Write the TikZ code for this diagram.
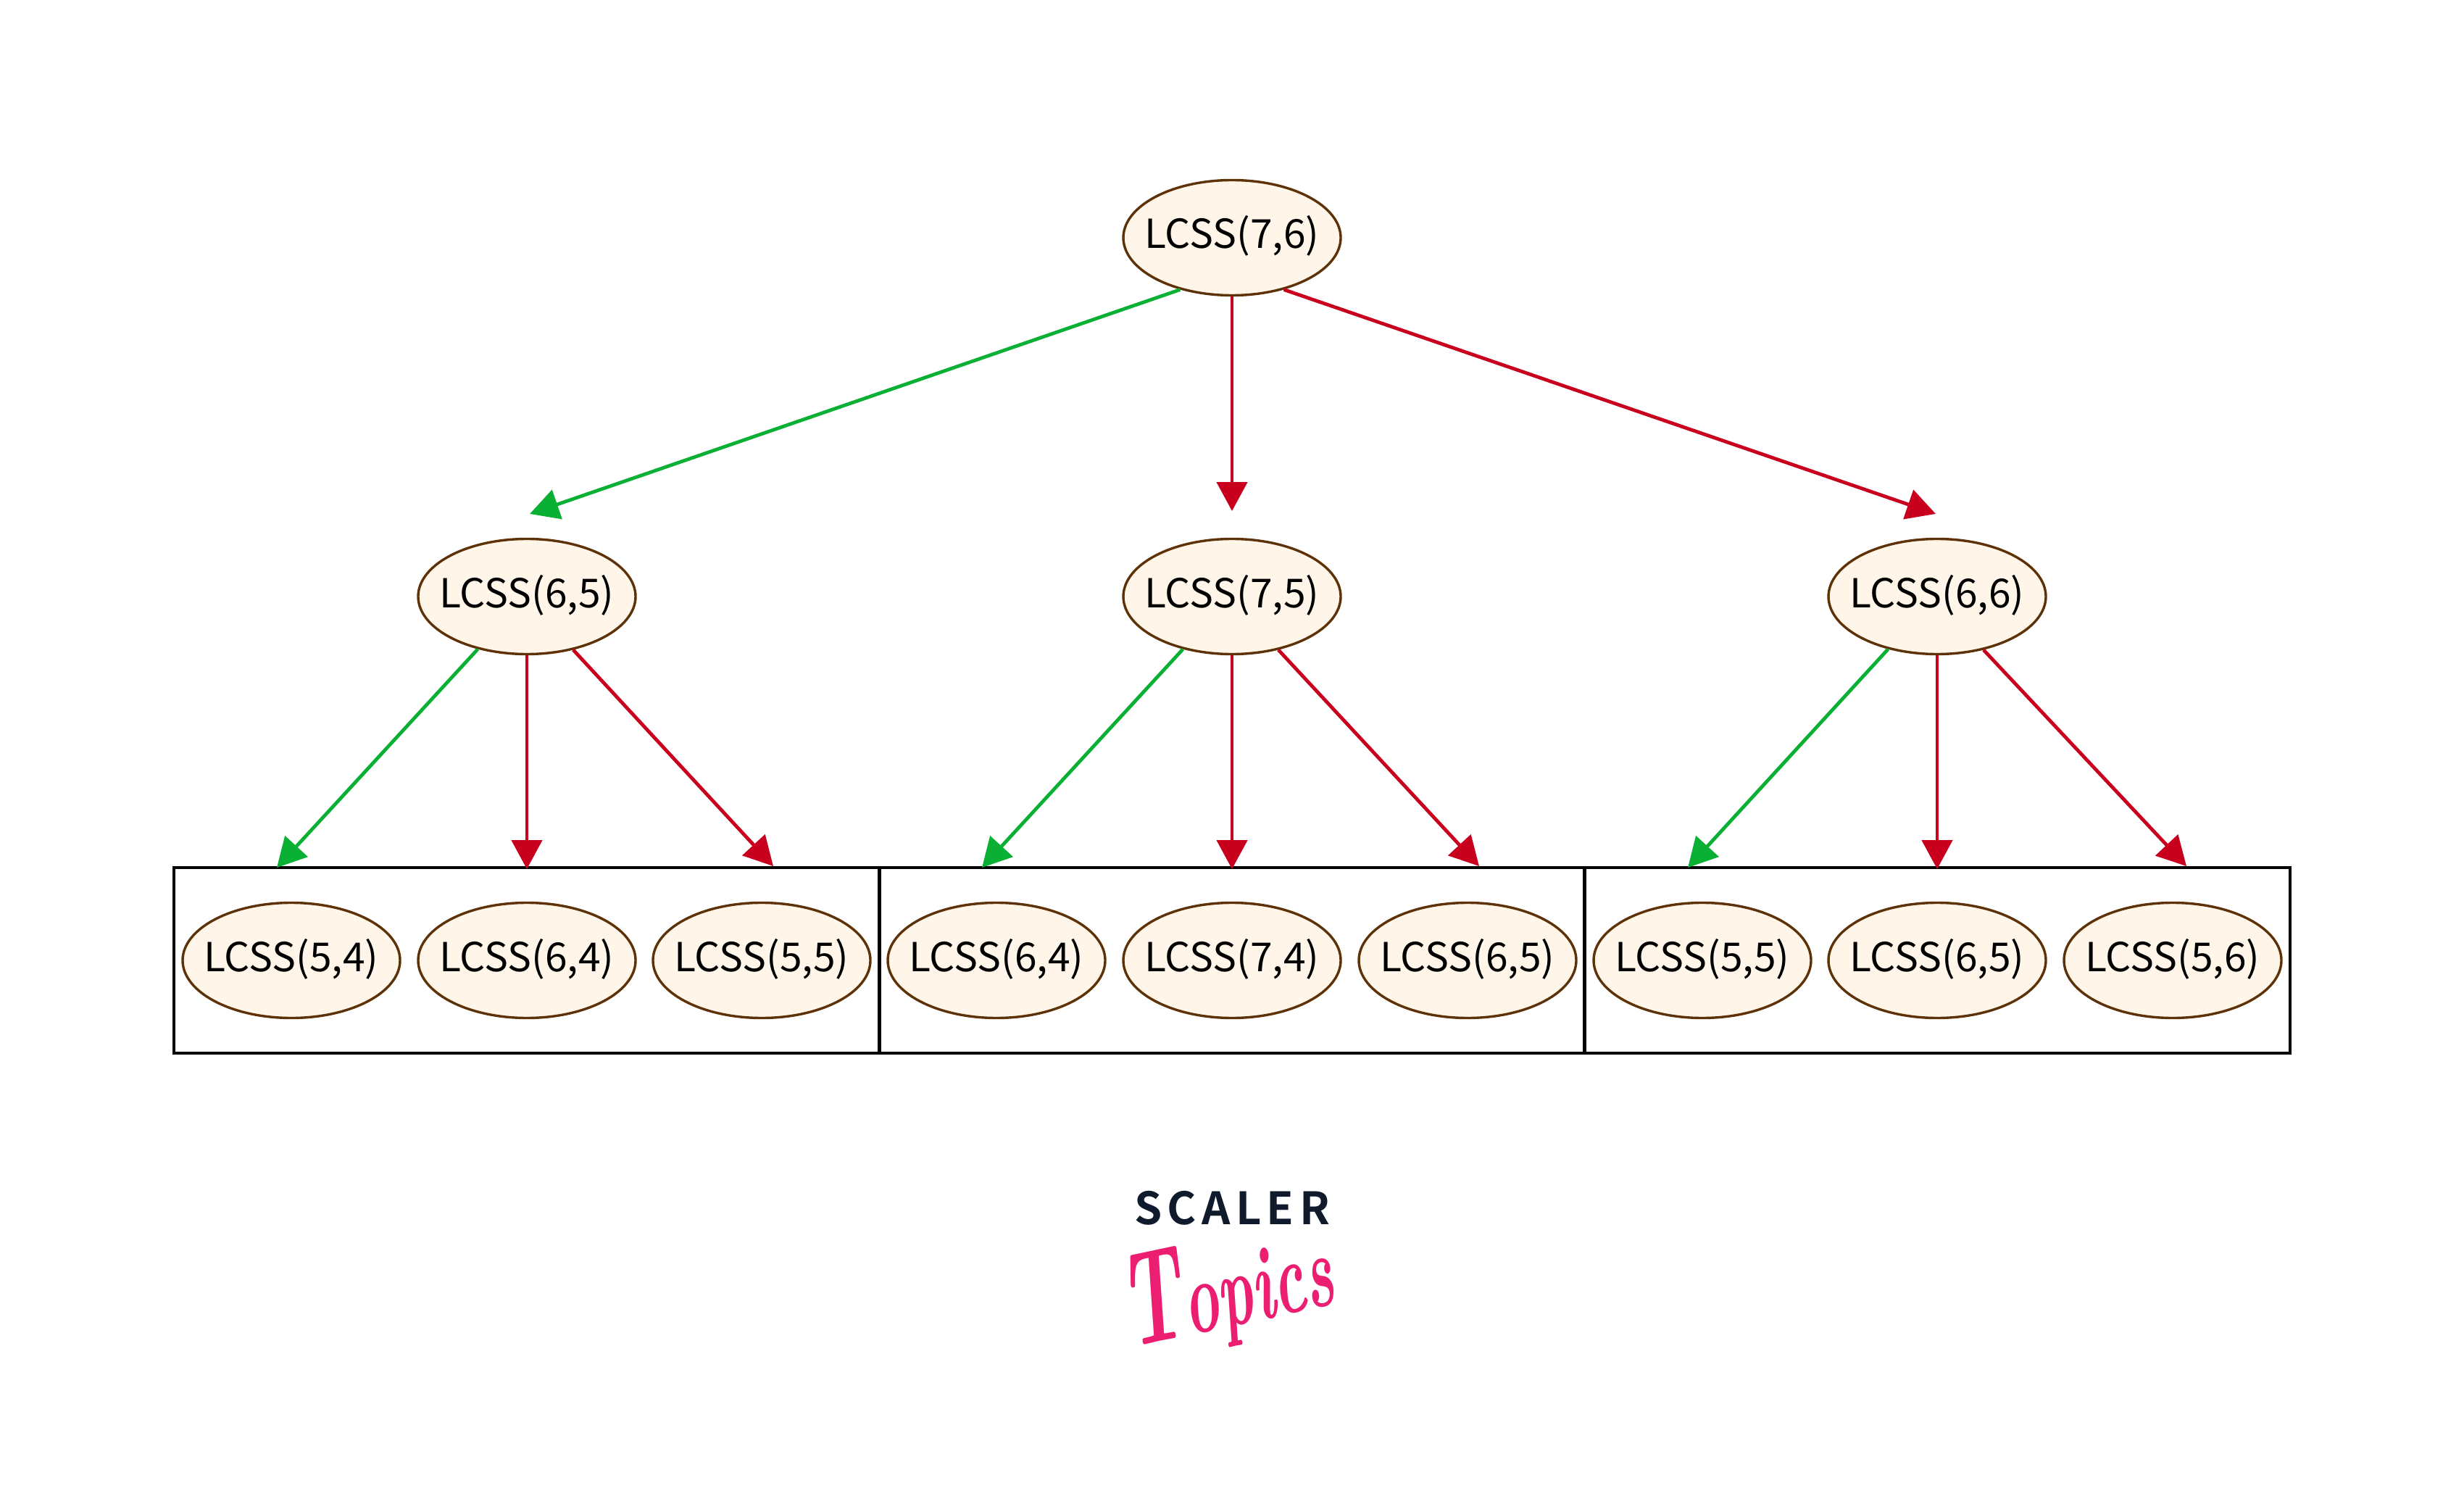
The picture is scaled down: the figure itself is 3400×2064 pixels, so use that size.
\documentclass[tikz,border=0pt]{standalone}
\usepackage{fontspec}
\usetikzlibrary{shapes.geometric,arrows.meta}
\newfontfamily\lcssfont{Noto Sans CJK SC}
\newfontfamily\logofont{Noto Sans CJK SC}[BoldFont={Noto Sans CJK SC Bold}]
\definecolor{stategreen}{HTML}{0AB034}
\definecolor{statered}{HTML}{C8001E}
\definecolor{stateedge}{HTML}{5E3208}
\definecolor{statefill}{HTML}{FFF5E8}
\definecolor{logonavy}{HTML}{0F1B2D}
\definecolor{logopink}{HTML}{EC1E72}
\newcommand{\statetext}[1]{\raisebox{-7.5pt}[0pt][0pt]{\makebox[0pt][c]{#1}}}
\tikzset{
  x=0.5pt,y=-0.5pt,
  statenode/.style={ellipse,draw=stateedge,fill=statefill,line width=1.7pt,minimum width=150pt,minimum height=79.5pt,inner sep=0pt,font=\lcssfont\fontsize{27.6}{27.6}\selectfont,text=black},
  groupbox/.style={rectangle,draw=black,line width=2.4pt,minimum width=486.5pt,minimum height=128pt,inner sep=0pt},
  edgebase/.style={line width=2.4pt,-{Triangle[length=20pt,width=21pt]},shorten >=0pt},
  goodedge/.style={edgebase,draw=stategreen,fill=stategreen},
  badedge/.style={edgebase,draw=statered,fill=statered},
}
\begin{document}
\begin{tikzpicture}
\useasboundingbox (0,0) rectangle (3400,2064);
% group boxes
\node[groupbox] (boxa) at (726.5,1325) {};
\node[groupbox] (boxb) at (1700,1325) {};
\node[groupbox] (boxc) at (2673.5,1325) {};
% states
\node[statenode] (root) at (1700,328) {\statetext{LCSS(7,6)}};
\node[statenode] (na) at (727,823) {\statetext{LCSS(6,5)}};
\node[statenode] (nb) at (1700,823) {\statetext{LCSS(7,5)}};
\node[statenode] (nc) at (2673,823) {\statetext{LCSS(6,6)}};
\node[statenode] (a1) at (402,1325) {\statetext{LCSS(5,4)}};
\node[statenode] (a2) at (727,1325) {\statetext{LCSS(6,4)}};
\node[statenode] (a3) at (1051,1325) {\statetext{LCSS(5,5)}};
\node[statenode] (b1) at (1375,1325) {\statetext{LCSS(6,4)}};
\node[statenode] (b2) at (1700,1325) {\statetext{LCSS(7,4)}};
\node[statenode] (b3) at (2025,1325) {\statetext{LCSS(6,5)}};
\node[statenode] (c1) at (2349,1325) {\statetext{LCSS(5,5)}};
\node[statenode] (c2) at (2673,1325) {\statetext{LCSS(6,5)}};
\node[statenode] (c3) at (2998,1325) {\statetext{LCSS(5,6)}};
% free ends of connectors
\coordinate (ra) at (731,709);
\coordinate (rb) at (1700,705);
\coordinate (rc) at (2671,709);
\coordinate (a1t) at (382,1197);
\coordinate (a2t) at (727,1199);
\coordinate (a3t) at (1067,1195);
\coordinate (b1t) at (1355,1197);
\coordinate (b2t) at (1700,1199);
\coordinate (b3t) at (2041,1195);
\coordinate (c1t) at (2329,1197);
\coordinate (c2t) at (2673,1199);
\coordinate (c3t) at (3017,1195);
% connectors
\draw[goodedge] (root.225) -- (ra);
\draw[badedge] (root.270) -- (rb);
\draw[badedge] (root.315) -- (rc);
\draw[goodedge] (na.227) -- (a1t);
\draw[badedge] (na.270) -- (a2t);
\draw[badedge] (na.311) -- (a3t);
\draw[goodedge] (nb.227) -- (b1t);
\draw[badedge] (nb.270) -- (b2t);
\draw[badedge] (nb.311) -- (b3t);
\draw[goodedge] (nc.227) -- (c1t);
\draw[badedge] (nc.270) -- (c2t);
\draw[badedge] (nc.311) -- (c3t);
% logo
\node[inner sep=0pt,text=logonavy,font=\logofont\bfseries\addfontfeatures{LetterSpace=12}\fontsize{30.7}{31}\selectfont] (scaler) at (1700,1667) {SCALER};
\node[inner sep=0pt,text=logopink,rotate=12,font=\rmfamily\itshape\bfseries\fontsize{72}{72}\selectfont] (topics) at (1693,1782) {\scalebox{0.57}[1]{{\fontsize{92}{92}\selectfont T}opics}};
\end{tikzpicture}
\end{document}
